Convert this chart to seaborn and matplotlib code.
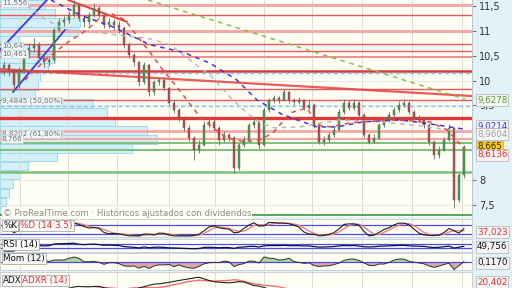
import numpy as np
import pandas as pd
import matplotlib
matplotlib.use("Agg")
import matplotlib.pyplot as plt
import seaborn as sns

sns.set_theme(style="white")
plt.rcParams['font.family'] = ['DejaVu Sans']

# ---------------- data ----------------
open_ = [10.25,10.31,10.21,9.91,10.21,10.51,10.66,10.72,10.45,10.37,
         10.41,11.02,11.18,11.22,11.32,11.52,11.26,11.18,11.32,11.46,
         11.32,11.12,11.18,11.12,11.06,10.72,10.51,10.37,9.97,10.31,
         9.77,9.97,10.01,9.85,9.55,9.41,9.25,9.05,8.85,8.61,
         8.71,9.11,9.17,9.05,8.81,8.91,8.85,8.24,8.71,8.81,
         9.11,9.17,8.71,9.41,9.61,9.65,9.61,9.77,9.61,9.57,
         9.61,9.45,9.51,9.11,8.77,8.81,8.91,9.01,9.37,9.55,
         9.45,9.55,9.31,8.91,8.77,8.85,9.11,9.21,9.31,9.41,
         9.51,9.55,9.37,9.25,9.21,9.11,8.77,8.50,8.61,8.81,
         9.05,7.60,8.10]
close = [10.31,10.21,9.91,10.21,10.51,10.66,10.72,10.45,10.37,10.41,
         11.02,11.18,11.22,11.32,11.52,11.26,11.18,11.32,11.46,11.32,
         11.12,11.18,11.12,11.06,10.72,10.51,10.37,9.97,10.31,9.77,
         9.97,10.01,9.85,9.55,9.41,9.25,9.05,8.85,8.61,8.71,
         9.11,9.17,9.05,8.81,8.91,8.85,8.24,8.71,8.81,9.11,
         9.17,8.71,9.41,9.61,9.65,9.61,9.77,9.61,9.57,9.61,
         9.45,9.51,9.11,8.77,8.81,8.91,9.01,9.37,9.55,9.45,
         9.55,9.31,8.91,8.77,8.85,9.11,9.21,9.31,9.41,9.51,
         9.55,9.37,9.25,9.21,9.11,8.77,8.50,8.61,8.81,9.05,
         7.60,8.10,8.665]
high = [10.40,10.36,10.25,10.28,10.58,10.76,10.85,10.78,10.50,10.47,
        11.06,11.25,11.30,11.40,11.62,11.55,11.30,11.38,11.55,11.50,
        11.36,11.25,11.24,11.20,11.10,10.78,10.56,10.40,10.38,10.33,
        10.02,10.08,10.05,9.88,9.60,9.45,9.28,9.10,8.88,8.80,
        9.18,9.24,9.22,9.08,8.98,8.95,8.88,8.75,8.88,9.15,
        9.25,9.20,9.45,9.66,9.72,9.70,9.84,9.80,9.66,9.67,
        9.64,9.60,9.55,9.14,8.88,8.96,9.06,9.42,9.62,9.60,
        9.62,9.58,9.34,8.95,8.92,9.15,9.27,9.36,9.47,9.58,
        9.62,9.58,9.40,9.30,9.25,9.14,8.80,8.68,8.86,9.12,
        9.06,8.15,8.70]
low = [10.12,10.10,9.80,9.86,10.15,10.45,10.58,10.38,10.28,10.30,
       10.38,10.98,11.10,11.15,11.28,11.20,11.08,11.12,11.28,11.25,
       11.05,11.06,11.02,10.95,10.66,10.45,10.30,9.90,9.94,9.70,
       9.72,9.92,9.80,9.50,9.35,9.18,8.98,8.78,8.41,8.55,
       8.68,9.05,8.98,8.70,8.76,8.78,8.14,8.20,8.66,8.78,
       9.05,8.62,8.68,9.36,9.55,9.55,9.58,9.55,9.50,9.52,
       9.40,9.42,9.05,8.72,8.70,8.76,8.86,8.98,9.33,9.40,
       9.40,9.25,8.86,8.72,8.74,8.82,9.06,9.16,9.26,9.36,
       9.46,9.32,9.18,9.14,9.05,8.70,8.42,8.45,8.58,8.78,
       7.44,7.55,8.05]

# moving averages (vertices)
ma_red_x = [4.2,8.2,12.6,16.6,19.2,21.6,24.2,27.2,29.2,31.8,34.6,37.8,39.2,41.8,44.6,
            48.2,51.2,53.8,57.2,60.6,62.6,65.2,69.2,77.2,85.2,88.6,92.2]
ma_red_y = [10.01,10.41,10.76,11.02,11.26,11.34,11.22,10.82,10.57,10.21,9.87,9.45,9.27,
            9.05,8.85,8.77,8.81,8.95,9.35,9.45,9.11,9.07,9.15,9.21,9.17,9.01,8.6136]
ma_blue_x = [9.4,15.2,21.8,29.2,35.8,41.2,46.6,50.6,55.8,62.6,66.6,71.8,79.2,85.2,92.2]
ma_blue_y = [11.62,11.32,11.08,10.72,10.57,10.35,10.01,9.61,9.31,9.07,9.07,9.17,9.21,9.13,9.0214]
ma_gray_x = [3.2,7.8,12.2,19.2,29.2,33.2,37.2,41.2,45.2,48.6,51.2,54.2,59.2,67.2,75.2,83.2,92.2]
ma_gray_y = [11.62,11.26,11.02,10.96,10.84,10.72,10.41,10.11,9.67,9.35,9.15,9.05,9.07,
             9.21,9.17,9.09,8.9604]
ma_green_x = [28.8,92.2]
ma_green_y = [11.62,9.6278]

# drawn trend lines
tl_blue1_x, tl_blue1_y = [-0.8, 8.6], [10.615, 11.62]
tl_blue2_x, tl_blue2_y = [1.8, 12.2], [9.77, 11.02]
tl_red1_x, tl_red1_y = [12.8, 24.6], [11.62, 11.18]
tl_red2_x, tl_red2_y = [-0.8, 93.6], [10.23, 9.69]

# horizontal support / resistance levels
h_levels = [11.52, 11.32, 11.00, 10.74, 10.595, 10.475, 10.19, 9.83, 9.61, 9.25,
            8.99, 8.8202, 8.75, 8.61, 8.16, 7.30]
h_colors = ['#f4a8a8', '#e85858', '#f4a8a8', '#e85858', '#e85858', '#f09090', '#e03838',
            '#e85858', '#e85858', '#e03838', '#f4a8a8', '#f4a8a8', '#7cc07c', '#7cc07c',
            '#7cc07c', '#3a9a3a']
h_widths = [2.2, 1.0, 2.2, 1.0, 1.0, 1.4, 1.8, 1.0, 1.0, 2.4, 2.0, 1.6, 1.4, 1.4, 1.8, 1.2]
fib_levels = [10.1497, 9.4845]

# volume profile
vp_price = [11.53,11.35,11.17,10.99,10.81,10.63,10.44,10.26,10.08,9.90,9.72,9.54,
            9.36,9.18,9.00,8.82,8.64,8.46,8.28,8.10,7.92,7.74,7.56,7.38]
vp_volume = [45,55,80,78,18,55,55,48,40,38,35,93,107,115,147,157,132,57,28,20,13,9,6,6]

# labels
price_ticks = [7.5, 8, 9.5, 10, 10.5, 11, 11.5]
fib_texts = [("11,556", 11.56), ("10,64", 10.695), ("10,461", 10.535),
             ("9,4845 (50,00%)", 9.59), ("8,8202 (61,80%)", 8.93), ("8,766", 8.83)]
last_labels = ["9,6278", "9,0214", "8,9604", "8,665", "8,6136"]
last_colors = ['#5a9e2f', '#3434d0', '#a0a0a0', '#202020', '#e03030']
last_faces = ['#f2f8f0', '#f2f4fa', '#f6f6f6', '#ffd000', '#faf2f2']
last_ypx = [100, 126, 134, 147, 155]
month_lines = [3.2, 12.8, 22.6, 33.0, 42.2, 52.0, 61.6, 71.6, 81.6, 91.6]

idx = np.arange(len(close))
s_o, s_c, s_h, s_l = map(pd.Series, (open_, close, high, low))

# ---------------- indicators ----------------
ll = s_l.rolling(7, min_periods=1).min()
hh = s_h.rolling(7, min_periods=1).max()
stoch_k = (100 * (s_c - ll) / (hh - ll)).rolling(2, min_periods=1).mean()
stoch_d = stoch_k.rolling(3, min_periods=1).mean()

delta = s_c.diff().fillna(0)
gain = delta.clip(lower=0).ewm(alpha=1/14, adjust=False).mean()
loss = (-delta.clip(upper=0)).ewm(alpha=1/14, adjust=False).mean()
rsi = 100 - 100 / (1 + gain / loss.replace(0, 1e-9))

mom = s_c - s_c.shift(6).fillna(s_o.iloc[0])

tr = pd.concat([s_h - s_l, (s_h - s_c.shift()).abs(), (s_l - s_c.shift()).abs()], axis=1).max(axis=1)
up = s_h.diff(); dn = -s_l.diff()
pdm = pd.Series(np.where((up > dn) & (up > 0), up, 0.0))
mdm = pd.Series(np.where((dn > up) & (dn > 0), dn, 0.0))
al = 1 / 7
atr = tr.ewm(alpha=al, adjust=False).mean()
pdi = 100 * pdm.ewm(alpha=al, adjust=False).mean() / atr
mdi = 100 * mdm.ewm(alpha=al, adjust=False).mean() / atr
dx = 100 * (pdi - mdi).abs() / (pdi + mdi).replace(0, 1e-9)
adx = dx.ewm(alpha=al, adjust=False).mean()
adxr = (adx + adx.shift(7).bfill()) / 2

# ---------------- figure ----------------
W, H = 512, 288
fig = plt.figure(figsize=(W / 100, H / 100), dpi=100)
fig.patch.set_facecolor('#e3f1f8')
BG = '#fffff4'

def rect(x0, y0, x1, y1):
    return [x0 / W, 1 - y1 / H, (x1 - x0) / W, (y1 - y0) / H]

def box_text(txt, ypx, col, fc):
    fig.text(477 / W, 1 - ypx / H, txt, fontsize=6.3, color=col, va='center', ha='left',
             zorder=20, bbox=dict(boxstyle='square,pad=0.12', fc=fc, ec='#b0b0b0', lw=0.5))

XL = (-0.8, 93.6)
YL = (7.258, 11.62)

ax_vp = fig.add_axes(rect(0, 0, 472, 217), zorder=0)
ax_vp.set_facecolor(BG)
ax_vp.barh(vp_price, vp_volume, height=0.172, left=0, color='#d2f0f6',
           edgecolor='#98d4e4', linewidth=0.6)
ax_vp.set_xlim(0, 472)
ax_vp.set_ylim(*YL)
ax_vp.set_xticks([]); ax_vp.set_yticks([])
for sp in ax_vp.spines.values():
    sp.set_visible(False)

ax = fig.add_axes(rect(0, 0, 472, 217), zorder=1)
ax.set_facecolor('none')
ax.set_xlim(*XL); ax.set_ylim(*YL)

for m in month_lines:
    ax.axvline(m, color='#dcdcdc', lw=0.7, zorder=0.5)
for t in price_ticks:
    ax.axhline(t, color='#e4e4e4', lw=0.6, zorder=0.5)

for lv, col, lw in zip(h_levels, h_colors, h_widths):
    ax.axhline(lv, color=col, lw=lw, zorder=1)
for lv in fib_levels:
    ax.axhline(lv, color='#7cc8ec', lw=1.0, ls=(0, (3, 2)), zorder=1)

# trend lines
ax.plot(tl_blue1_x, tl_blue1_y, color='#3a3ae0', lw=1.3, zorder=2)
ax.plot(tl_blue2_x, tl_blue2_y, color='#3a3ae0', lw=1.3, zorder=2)
ax.plot(tl_red1_x, tl_red1_y, color='#e84040', lw=1.4, zorder=2)
ax.plot(tl_red2_x, tl_red2_y, color='#e84040', lw=1.6, alpha=0.85, zorder=2)

# candles
o = np.array(open_); c = np.array(close)
up_c = c >= o
colors = np.where(up_c, '#46a046', '#c84848')
ax.vlines(idx, low, high, color='#7a7a7a', lw=0.7, zorder=3)
body = np.where(np.abs(c - o) < 0.02, 0.02, c - o)
ax.bar(idx, body, bottom=o, width=0.5, color=colors, edgecolor='#555555',
       linewidth=0.3, zorder=4)

# moving averages
sns.lineplot(x=ma_green_x, y=ma_green_y, ax=ax, color='#80c050', lw=1.1,
             linestyle=(0, (3, 3)), zorder=5)
sns.lineplot(x=ma_gray_x, y=ma_gray_y, ax=ax, color='#b8b8b8', lw=1.1,
             linestyle=(0, (3, 3)), zorder=5)
sns.lineplot(x=ma_blue_x, y=ma_blue_y, ax=ax, color='#3838d8', lw=1.1,
             linestyle=(0, (3, 3)), zorder=5)
sns.lineplot(x=ma_red_x, y=ma_red_y, ax=ax, color='#e84848', lw=1.1,
             linestyle=(0, (3, 3)), zorder=5)

# fib / level labels
for txt, yv in fib_texts:
    ax.text(-0.45, yv, txt, fontsize=5.2, color='#707070', va='center', ha='left',
            zorder=6, bbox=dict(boxstyle='square,pad=0.1', fc='#eef8fa', ec='#c8c8c8', lw=0.4))

ax.text(0.006, 0.018, "© ProRealTime.com · Históricos ajustados con dividendos",
        transform=ax.transAxes, fontsize=6.2, color='#8a8a8a', va='center', ha='left',
        zorder=6, bbox=dict(boxstyle='square,pad=0.1', fc=BG, ec='none'))

# right axis
ax.yaxis.tick_right()
ax.set_yticks(price_ticks)
ax.set_yticklabels([("%g" % t).replace('.', ',') for t in price_ticks], fontsize=7, color='#333333')
ax.tick_params(axis='y', length=3, width=0.6, color='#555555', pad=2)
ax.set_xticks([])
ax.set_xlabel(''); ax.set_ylabel('')
for sp in ['top', 'left', 'bottom']:
    ax.spines[sp].set_visible(False)
ax.spines['right'].set_color('#b8c4cc'); ax.spines['right'].set_linewidth(0.7)

for txt, col, fc, ypx in zip(last_labels, last_colors, last_faces, last_ypx):
    box_text(txt, ypx, col, fc)

# ---------------- sub panels ----------------
def panel(y0, y1, ylim):
    a = fig.add_axes(rect(0, y0, 472, y1))
    a.set_facecolor(BG)
    a.set_xlim(*XL); a.set_ylim(*ylim)
    a.set_xticks([]); a.set_yticks([])
    for sp in a.spines.values():
        sp.set_color('#c4ccd2'); sp.set_linewidth(0.6)
    for m in month_lines:
        a.axvline(m, color='#dcdcdc', lw=0.7, zorder=0.5)
    return a

def label(a, parts, yfrac):
    x = 3 / 472
    for txt, col, wpx in parts:
        a.text(x, yfrac, txt, transform=a.transAxes, fontsize=6.3, color=col,
               va='center', ha='left', zorder=8,
               bbox=dict(boxstyle='square,pad=0.12', fc='#f8f8f8', ec='#9a9a9a', lw=0.5))
        x += wpx / 472

# Stochastic
a1 = panel(219, 237, (-2, 120))
a1.axhline(80, color='#4a4af0', lw=0.9); a1.axhline(20, color='#4a4af0', lw=0.9)
sns.lineplot(x=idx, y=stoch_d.values, ax=a1, color='#f08080', lw=1.0)
sns.lineplot(x=idx, y=stoch_k.values, ax=a1, color='#202020', lw=0.8)
label(a1, [("%K", '#111111', 17), ("%D (14 3 5)", '#e03030', 0)], 0.66)
box_text("37,023", 232, '#e03030', '#f4f4f4')

# RSI
a2 = panel(239, 252, (-10, 120))
a2.axhline(70, color='#4a4af0', lw=0.9); a2.axhline(30, color='#4a4af0', lw=0.9)
sns.lineplot(x=idx, y=rsi.values, ax=a2, color='#101040', lw=0.9)
label(a2, [("RSI (14)", '#111111', 0)], 0.6)
box_text("49,756", 247, '#111111', '#f4f4f4')

# Momentum
a3 = panel(253, 270, (-1.6, 2.0))
mv = mom.values
a3.fill_between(idx, mv, 0, where=mv >= 0, color='#a8d8a0', interpolate=True, lw=0)
a3.fill_between(idx, mv, 0, where=mv < 0, color='#dca8a0', interpolate=True, lw=0)
a3.axhline(0, color='#4a4af0', lw=0.9)
sns.lineplot(x=idx, y=mv, ax=a3, color='#303030', lw=0.7)
label(a3, [("Mom (12)", '#111111', 0)], 0.7)
box_text("0,1170", 263, '#111111', '#f4f4f4')

# ADX
a4 = panel(272, 300, (0, 95))
sns.lineplot(x=idx, y=adxr.values, ax=a4, color='#f07070', lw=1.0)
sns.lineplot(x=idx, y=adx.values, ax=a4, color='#202020', lw=0.8)
label(a4, [("ADX", '#111111', 19), ("ADXR (14)", '#e03030', 0)], 0.71)
box_text("20,402", 282, '#e03030', '#f4f4f4')

for a in (a1, a2, a3, a4):
    a.set_xlabel(''); a.set_ylabel('')
    if a.get_legend():
        a.get_legend().remove()

fig.savefig("out.png", dpi=100, facecolor=fig.get_facecolor())
